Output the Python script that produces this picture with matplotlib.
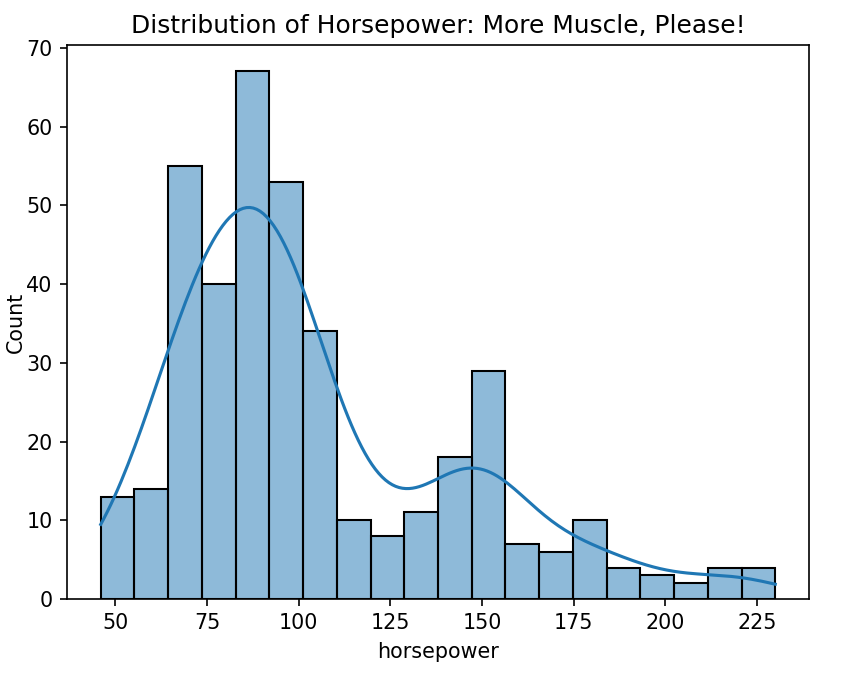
import numpy as np
import matplotlib
matplotlib.use("Agg")
import matplotlib.pyplot as plt

# Histogram data (horsepower, 20 bins)
bin_start = 46
bin_end = 230
counts = [13, 14, 55, 40, 67, 53, 34, 10, 8, 11, 18, 29, 7, 6, 10, 4, 3, 2, 4, 4]
title = "Distribution of Horsepower: More Muscle, Please!"
xlabel = "horsepower"
ylabel = "Count"
xticks = [50, 75, 100, 125, 150, 175, 200, 225]
yticks = [0, 10, 20, 30, 40, 50, 60, 70]

edges = np.linspace(bin_start, bin_end, len(counts) + 1)
centers = (edges[:-1] + edges[1:]) / 2
widths = np.diff(edges)
w = np.array(counts, dtype=float)
n = w.sum()

# weighted gaussian KDE (Scott's rule) of the binned data, scaled to counts
bw_adjust = 1.1
mean = np.sum(w * centers) / n
var = np.sum(w * (centers - mean) ** 2) / n
bw = np.sqrt(var) * n ** (-1 / 5) * bw_adjust
grid = np.linspace(bin_start, bin_end, 200)
dens = np.zeros_like(grid)
for c, k in zip(centers, w):
    dens += k * np.exp(-0.5 * ((grid - c) / bw) ** 2)
dens /= (n * bw * np.sqrt(2 * np.pi))
kde_counts = dens * n * widths[0]

S = 1.49
fig = plt.figure(figsize=(8.59, 6.74), dpi=100)
ax = fig.add_axes([67 / 859, 1 - 599 / 674, 742 / 859, 554 / 674])

ax.bar(edges[:-1], counts, width=widths, align="edge",
       color="#1f77b4", alpha=0.5, edgecolor="none", linewidth=0)
ax.bar(edges[:-1], counts, width=widths, align="edge",
       facecolor="none", edgecolor="black", linewidth=1.0 * S)
ax.plot(grid, kde_counts, color="#1f77b4", linewidth=1.5 * S)

span = bin_end - bin_start
ax.set_xlim(bin_start - 0.05 * span, bin_end + 0.05 * span)
ax.set_ylim(0, max(counts) * 1.05)
ax.set_xticks(xticks)
ax.set_yticks(yticks)
ax.tick_params(labelsize=10 * S, width=0.8 * S, length=3.5 * S, pad=3.5 * S)
for sp in ax.spines.values():
    sp.set_linewidth(0.8 * S)
ax.set_title(title, fontsize=12 * S, pad=6 * S)
ax.set_xlabel(xlabel, fontsize=10 * S, labelpad=4 * S)
ax.set_ylabel(ylabel, fontsize=10 * S, labelpad=0.5)

fig.savefig("out.png", dpi=100)
